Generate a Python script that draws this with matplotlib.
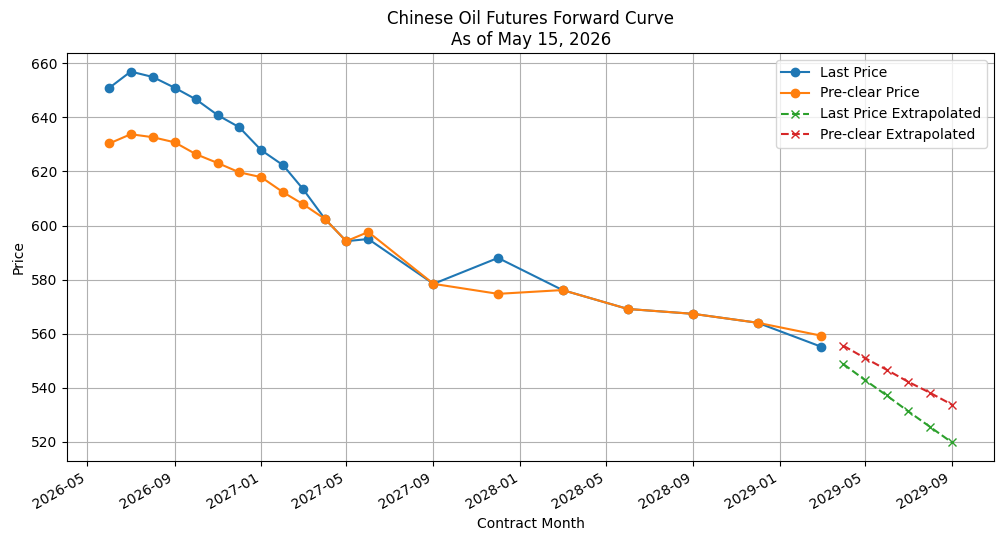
import numpy as np
import pandas as pd
import matplotlib
matplotlib.use("Agg")
import matplotlib.pyplot as plt

# contract months
months = ["2026-06", "2026-07", "2026-08", "2026-09", "2026-10", "2026-11",
          "2026-12", "2027-01", "2027-02", "2027-03", "2027-04", "2027-05",
          "2027-06", "2027-09", "2027-12", "2028-03", "2028-06", "2028-09",
          "2028-12", "2029-03"]
last_price = [651, 657, 655, 651, 646.7, 640.8, 636.4, 627.9, 622.3, 613.5,
              602.4, 594.2, 595, 578.4, 588, 576.1, 569.1, 567.3, 564, 555.1]
preclear_price = [630.4, 633.8, 632.7, 630.8, 626.4, 623.1, 619.7, 617.9, 612.3,
                  607.9, 602.4, 594.2, 597.6, 578.4, 574.7, 576.1, 569.1, 567.3,
                  564, 559.2]

# extrapolated months
ext_months = ["2029-04", "2029-05", "2029-06", "2029-07", "2029-08", "2029-09"]
last_ext = [548.7, 542.9, 537.1, 531.3, 525.5, 519.7]
preclear_ext = [555.5, 551.0, 546.6, 542.2, 538.1, 533.7]

dates = pd.to_datetime(months)
ext_dates = pd.to_datetime(ext_months)

fig, ax = plt.subplots(figsize=(10.05, 5.41), dpi=100)

ax.plot(dates, last_price, marker="o", label="Last Price")
ax.plot(dates, preclear_price, marker="o", label="Pre-clear Price")
ax.plot(ext_dates, last_ext, "x--", label="Last Price Extrapolated")
ax.plot(ext_dates, preclear_ext, "x--", label="Pre-clear Extrapolated")

ax.set_title("Chinese Oil Futures Forward Curve\nAs of May 15, 2026")
ax.set_xlabel("Contract Month")
ax.set_ylabel("Price")
ax.grid(True)
ax.legend(loc="upper right")
fig.autofmt_xdate()
# layout after autofmt, which resets bottom
fig.subplots_adjust(left=0.067, right=0.989, top=0.902, bottom=0.148)

fig.savefig("out.png", dpi=100)
